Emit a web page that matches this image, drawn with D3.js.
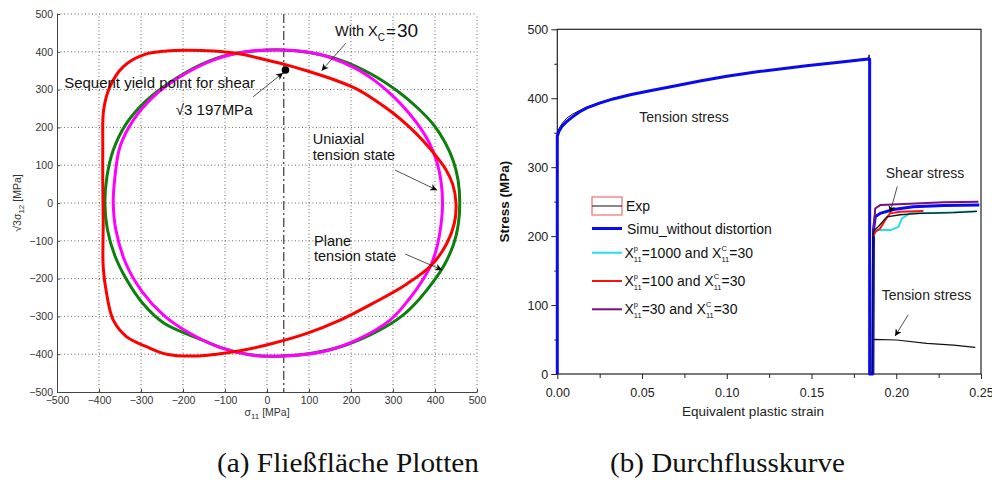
<!DOCTYPE html>
<html><head><meta charset="utf-8">
<script src="https://cdn.jsdelivr.net/npm/d3@7/dist/d3.min.js"></script>
<style>body{margin:0;background:#fff}svg{display:block}</style>
</head><body><svg id="c" width="992" height="495"></svg>
<script>
// ---------------- data: (a) yield surfaces, sigma11 vs sqrt(3)*sigma12 [MPa]
const yieldTicks = [-500,-400,-300,-200,-100,0,100,200,300,400,500];
const surfaceGreen = [[459,0],[455,60],[444,110],[424,160],[398,205],[360,250],[312,295],[250,340],[175,378],[100,398],[36,405],[-30,402],[-100,390],[-160,365],[-227,322],[-288,270],[-335,210],[-366,140],[-381,70],[-386,0],[-380,-70],[-362,-140],[-333,-205],[-296,-265],[-245,-318],[-155,-362],[-100,-386],[-30,-403],[36,-405],[110,-397],[190,-375],[262,-340],[320,-300],[362,-255],[398,-205],[424,-160],[444,-110],[455,-60]];
const surfaceMagenta = [[418,0],[414,60],[404,110],[386,160],[357,211],[322,258],[293,290],[255,325],[213,355],[150,385],[94,400],[30,405],[-48,401],[-128,378],[-207,334],[-271,281],[-318,220],[-350,149],[-362,70],[-366,0],[-360,-70],[-336,-160],[-297,-235],[-247,-296],[-191,-340],[-112,-382],[-40,-402],[39,-405],[134,-393],[214,-362],[293,-310],[340,-252],[370,-205],[392,-160],[406,-110],[414,-60]];
const surfaceRed = [[450,0],[442,50],[425,90],[400,128],[372,164],[340,200],[300,238],[260,270],[213,302],[160,326],[100,348],[44,366],[0,378],[-64,394],[-128,402],[-191,404],[-239,402],[-294,392],[-342,361],[-374,308],[-389,246],[-391,150],[-391,50],[-390,-50],[-390,-169],[-382,-239],[-366,-310],[-334,-354],[-287,-380],[-239,-400],[-175,-405],[-120,-400],[-64,-391],[15,-371],[95,-345],[174,-310],[253,-265],[333,-214],[392,-164],[428,-107],[446,-54]];
const referenceSigma11 = [40];
const shearYieldPoint = [[44,352]];

// ---------------- data: (b) flow curves, equivalent plastic strain vs stress [MPa]
const strainTicks = [0,0.05,0.10,0.15,0.20,0.25];
const strainMinor = [0.025,0.075,0.125,0.175,0.225];
const stressTicks = [0,100,200,300,400,500];
const stressMinor = [50,150,250,350,450];
const expTension = [[0,0],[0,350],[0.001,356],[0.003,364],[0.0055,371],[0.009,377],[0.013,382],[0.0174,387],[0.025,394],[0.033,400],[0.043,405],[0.0547,411],[0.07,418],[0.0842,425],[0.1,432],[0.12,439],[0.147,447],[0.165,452],[0.1836,458],[0.184,463],[0.1843,440],[0.1845,0]];
const expShear = [[0.1858,0],[0.186,150],[0.1862,200],[0.1868,208],[0.1895,214],[0.1944,228],[0.2023,231],[0.214,233],[0.2338,234],[0.2476,236]];
const expTensionAfter = [[0.1862,0],[0.1865,50],[0.1868,50.3],[0.2003,49.3],[0.218,44.5],[0.2338,42],[0.2466,38.6]];
const simuNoDistortion = [[0,0],[0,345],[0.001,352],[0.003,360],[0.0055,366],[0.009,373],[0.013,380],[0.0174,386],[0.025,393],[0.033,399],[0.043,405],[0.0547,411],[0.07,418],[0.0842,425],[0.1,432],[0.12,439],[0.147,447],[0.165,452],[0.1836,457],[0.1843,457],[0.1843,0],[0.1862,0],[0.1866,210],[0.1876,228],[0.1905,233],[0.1983,238.6],[0.21,242.5],[0.2279,244.5],[0.249,245]];
const xp1000 = [[0.1866,200],[0.1876,209],[0.197,209],[0.2013,213.5],[0.2033,225.6],[0.208,233],[0.2279,234],[0.2476,236]];
const xp100 = [[0.1866,200],[0.1876,206],[0.1905,211],[0.1934,223],[0.1963,233],[0.2023,235.5],[0.216,236.5]];
const xp30 = [[0.1866,205],[0.1872,228],[0.1876,240],[0.1905,245],[0.208,247],[0.228,249],[0.2485,250]];

// ---------------- drawing
const svg = d3.select("#c");
const SANS = "'Liberation Sans', Arial, sans-serif";
const SERIF = "'Liberation Serif', 'Times New Roman', serif";

function rich(g, x, y, parts, fill) {
  const grp = g.append("g").attr("font-family", SANS).attr("fill", fill || "#111");
  let cx = x, stackW = 0;
  parts.forEach(p => {
    const t = grp.append("text").attr("x", cx).attr("y", y + (p.off || 0))
      .attr("font-size", p.fs).text(p.t);
    const w = t.node().getComputedTextLength();
    if (p.stack) { stackW = w; } else { cx += Math.max(w, stackW) + (p.gap || 0); stackW = 0; }
  });
  return grp;
}

svg.append("defs").append("marker").attr("id","ah").attr("viewBox","0 0 10 10")
  .attr("refX",10).attr("refY",5).attr("markerWidth",9).attr("markerHeight",7)
  .attr("orient","auto").attr("markerUnits","userSpaceOnUse")
  .append("path").attr("d","M0,0 L10,5 L0,10 L3,5 Z").attr("fill","#000");

// ===== Panel (a)
const xL = d3.scaleLinear().domain([-500,500]).range([57,477]);
const yL = d3.scaleLinear().domain([-500,500]).range([392,14]);
const gA = svg.append("g");

gA.append("g").selectAll("line").data(yieldTicks.slice(1)).join("line")
  .attr("x1", d=>xL(d)).attr("x2", d=>xL(d)).attr("y1", yL(-500)).attr("y2", yL(500))
  .attr("stroke","#666").attr("stroke-width",1).attr("stroke-dasharray","1,2.5");
gA.append("g").selectAll("line").data(yieldTicks.slice(1)).join("line")
  .attr("y1", d=>yL(d)).attr("y2", d=>yL(d)).attr("x1", xL(-500)).attr("x2", xL(500))
  .attr("stroke","#666").attr("stroke-width",1).attr("stroke-dasharray","1,2.5");

const axL = gA.append("g").attr("transform",`translate(${xL(-500)},0)`)
  .call(d3.axisLeft(yL).tickValues(yieldTicks).tickSize(-3).tickSizeOuter(0).tickPadding(4));
const axB = gA.append("g").attr("transform",`translate(0,${yL(-500)})`)
  .call(d3.axisBottom(xL).tickValues(yieldTicks).tickSize(-3).tickSizeOuter(0).tickPadding(5));
[axL, axB].forEach(a => {
  a.selectAll("path,line").attr("stroke","#444");
  a.selectAll("text").attr("font-family",SANS).attr("font-size",10.5).attr("fill","#333");
});

gA.append("g").selectAll("line").data(referenceSigma11).join("line")
  .attr("x1", d=>xL(d)).attr("x2", d=>xL(d)).attr("y1", yL(500)).attr("y2", yL(-500))
  .attr("stroke","#111").attr("stroke-width",1).attr("stroke-dasharray","9,3,2,3");

const closed = d3.line().x(d=>xL(d[0])).y(d=>yL(d[1])).curve(d3.curveCatmullRomClosed.alpha(0.5));
[[surfaceGreen,"#0b800b"],[surfaceMagenta,"#ff00ff"],[surfaceRed,"#ff0000"]].forEach(([d,c]) => {
  gA.append("path").attr("d", closed(d)).attr("fill","none").attr("stroke",c).attr("stroke-width",3);
});

gA.selectAll("circle.pt").data(shearYieldPoint).join("circle").attr("class","pt")
  .attr("cx", d=>xL(d[0])).attr("cy", d=>yL(d[1])).attr("r",3.8).attr("fill","#000");

function arrowA(g, sx, a, b) {
  g.append("line").attr("x1", sx.x(a[0])).attr("y1", sx.y(a[1])).attr("x2", sx.x(b[0])).attr("y2", sx.y(b[1]))
   .attr("stroke","#222").attr("stroke-width",0.8).attr("marker-end","url(#ah)");
}
const SA = {x:xL, y:yL};
arrowA(gA, SA, [188,423], [130,350]);
arrowA(gA, SA, [-33,281], [38,344]);
arrowA(gA, SA, [305,87], [405,34]);
arrowA(gA, SA, [329,-135], [417,-177]);

rich(gA, xL(162), yL(442), [{t:"With X",fs:14.5},{t:"C",fs:10,off:5,gap:1},{t:"=",fs:17,off:1,gap:1},{t:"30",fs:19,off:1}]);
gA.append("text").attr("x", xL(-483)).attr("y", yL(304)).attr("font-family",SANS).attr("font-size",15)
  .attr("fill","#111").text("Sequent yield point for shear");
gA.append("text").attr("x", xL(-217)).attr("y", yL(234)).attr("font-family",SANS).attr("font-size",15)
  .attr("fill","#111").text("\u221A3 197MPa");
gA.append("text").attr("font-family",SANS).attr("font-size",14.5).attr("fill","#111")
  .selectAll("tspan").data(["Uniaxial","tension state"]).join("tspan")
  .attr("x", xL(109)).attr("y",(d,i)=>yL(155) + i*16).text(d=>d);
gA.append("text").attr("font-family",SANS).attr("font-size",14.5).attr("fill","#111")
  .selectAll("tspan").data(["Plane","tension state"]).join("tspan")
  .attr("x", xL(112)).attr("y",(d,i)=>yL(-113) + i*15.5).text(d=>d);

const ylab = gA.append("text").attr("transform",`translate(21,${(yL(-500)+yL(500))/2}) rotate(-90)`)
  .attr("text-anchor","middle").attr("font-family",SANS).attr("font-size",10.5).attr("fill","#333");
ylab.append("tspan").text("\u221A3\u03C3");
ylab.append("tspan").attr("font-size",8).attr("dy",3).text("12");
ylab.append("tspan").attr("dy",-3).text(" [MPa]");
const xlab = gA.append("text").attr("x", xL(0)).attr("y", 416)
  .attr("text-anchor","middle").attr("font-family",SANS).attr("font-size",10.5).attr("fill","#333");
xlab.append("tspan").text("\u03C3");
xlab.append("tspan").attr("font-size",8).attr("dy",3).text("11");
xlab.append("tspan").attr("dy",-3).text(" [MPa]");

// ===== Panel (b)
const xR = d3.scaleLinear().domain([0,0.25]).range([557.3,981]);
const yR = d3.scaleLinear().domain([0,500]).range([374,29.3]);
const gB = svg.append("g");

gB.append("rect").attr("x",xR(0)).attr("y",yR(500)).attr("width",xR(0.25)-xR(0)).attr("height",yR(0)-yR(500))
  .attr("fill","none").attr("stroke","#222").attr("stroke-width",1.2);
const axRL = gB.append("g").attr("transform",`translate(${xR(0)},0)`)
  .call(d3.axisLeft(yR).tickValues(stressTicks).tickSize(6).tickSizeOuter(0).tickPadding(3));
const axRLm = gB.append("g").attr("transform",`translate(${xR(0)},0)`)
  .call(d3.axisLeft(yR).tickValues(stressMinor).tickSize(3).tickSizeOuter(0).tickFormat(""));
const axRB = gB.append("g").attr("transform",`translate(0,${yR(0)})`)
  .call(d3.axisBottom(xR).tickValues(strainTicks).tickSize(5).tickSizeOuter(0).tickPadding(9).tickFormat(d3.format(".2f")));
const axRBm = gB.append("g").attr("transform",`translate(0,${yR(0)})`)
  .call(d3.axisBottom(xR).tickValues(strainMinor).tickSize(4).tickSizeOuter(0).tickFormat(""));
[axRL, axRLm, axRB, axRBm].forEach(a => {
  a.select(".domain").remove();
  a.selectAll("line").attr("stroke","#222");
  a.selectAll("text").attr("font-family",SANS).attr("font-size",12.5).attr("fill","#222");
});

const lineR = d3.line().x(d=>xR(d[0])).y(d=>yR(d[1]));
const seriesB = [
  [expTension,"#111",1],[expTensionAfter,"#111",1.2],
  [simuNoDistortion,"#0a0af0",3],
  [xp1000,"#20e0e8",2],[xp100,"#ff1010",2],[xp30,"#7a1080",2],
  [expShear,"#111",1.3]
];
seriesB.forEach(([d,c,w]) => {
  gB.append("path").attr("d", lineR(d)).attr("fill","none").attr("stroke",c).attr("stroke-width",w)
    .attr("stroke-linejoin","round");
});

const SB = {x:xR, y:yR};
arrowA(gB, SB, [0.2006,272], [0.1963,234]);
arrowA(gB, SB, [0.2071,86], [0.1993,55]);

gB.append("text").attr("x", xR(0.0484)).attr("y", yR(365)).attr("font-family",SANS).attr("font-size",14)
  .attr("fill","#222").text("Tension stress");
gB.append("text").attr("x", xR(0.1938)).attr("y", yR(285)).attr("font-family",SANS).attr("font-size",14)
  .attr("fill","#222").text("Shear stress");
gB.append("text").attr("x", xR(0.1914)).attr("y", yR(107)).attr("font-family",SANS).attr("font-size",14)
  .attr("fill","#222").text("Tension stress");

const lx0 = 592, lx1 = 622;
const lg = gB.append("g");
lg.append("rect").attr("x",lx0).attr("y",197).attr("width",lx1-lx0).attr("height",18)
  .attr("fill","none").attr("stroke","#f07070").attr("stroke-width",1.2);
lg.append("line").attr("x1",lx0).attr("x2",lx1).attr("y1",206).attr("y2",206).attr("stroke","#111").attr("stroke-width",1);
lg.append("text").attr("x",626).attr("y",211).attr("font-family",SANS).attr("font-size",14).attr("fill","#111").text("Exp");
lg.append("line").attr("x1",lx0).attr("x2",lx1).attr("y1",228.5).attr("y2",228.5).attr("stroke","#0a0af0").attr("stroke-width",3);
lg.append("text").attr("x",627).attr("y",233.5).attr("font-family",SANS).attr("font-size",14).attr("fill","#111").text("Simu_without distortion");
[["1000",252.7,"#20e0e8"],["100",281,"#ff1010"],["30",309.3,"#7a1080"]].forEach(([v,y,c]) => {
  lg.append("line").attr("x1",lx0).attr("x2",lx1).attr("y1",y).attr("y2",y).attr("stroke",c).attr("stroke-width",2);
  rich(lg, 624.5, y+5, [
    {t:"X",fs:14},{t:"p",fs:7.5,off:-7,stack:true},{t:"11",fs:7.5,off:4},
    {t:"="+v+" and X",fs:14},{t:"C",fs:7.5,off:-7,stack:true},{t:"11",fs:7.5,off:4},{t:"=30",fs:14}
  ], "#111");
});

gB.append("text").attr("transform",`translate(509,${(yR(0)+yR(500))/2}) rotate(-90)`)
  .attr("text-anchor","middle").attr("font-family",SANS).attr("font-size",13.5).attr("font-weight","bold")
  .attr("fill","#111").text("Stress (MPa)");
gB.append("text").attr("x",753).attr("y",416).attr("text-anchor","middle").attr("font-family",SANS)
  .attr("font-size",13.5).attr("fill","#222").text("Equivalent plastic strain");

svg.append("text").attr("x",217).attr("y",472).attr("font-family",SERIF).attr("font-size",27)
  .attr("textLength",262).attr("lengthAdjust","spacingAndGlyphs").attr("fill","#111").text("(a) Flie\u00DFfl\u00E4che Plotten");
svg.append("text").attr("x",610).attr("y",472).attr("font-family",SERIF).attr("font-size",27)
  .attr("textLength",235).attr("lengthAdjust","spacingAndGlyphs").attr("fill","#111").text("(b) Durchflusskurve");
</script></body></html>
